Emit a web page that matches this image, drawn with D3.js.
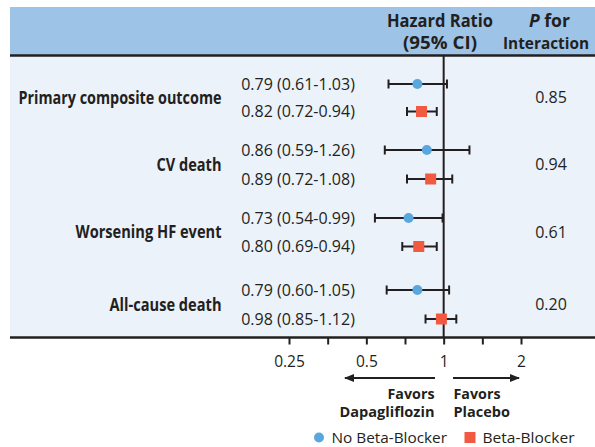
<!DOCTYPE html>
<html>
<head>
<meta charset="UTF-8">
<script src="https://cdn.jsdelivr.net/npm/d3@7"></script>
<style>
  body { margin: 0; background: #fff; }
  text { font-family: "Open Sans", sans-serif; fill: #231f20; }
</style>
</head>
<body>
<svg id="chart" width="595" height="447"></svg>
<script>
// outcomes, one per pair of rows
var outcomes = ["Primary composite outcome", "CV death", "Worsening HF event", "All-cause death"];
var pInteraction = ["0.85", "0.94", "0.61", "0.20"];

// no beta-blocker: hr, lo, hi
var noBB = [[0.79, 0.61, 1.03], [0.86, 0.59, 1.26], [0.73, 0.54, 0.99], [0.79, 0.60, 1.05]];
// beta-blocker
var withBB = [[0.82, 0.72, 0.94], [0.89, 0.72, 1.08], [0.80, 0.69, 0.94], [0.98, 0.85, 1.12]];

var tickVals = [0.25, Math.SQRT1_2 / 2, 0.5, Math.SQRT1_2, 1, Math.SQRT2, 2];
var tickLabels = {0.25: "0.25", 0.5: "0.5", 1: "1", 2: "2"};

var ink = "#231f20", blue = "#5aa7dd", red = "#f15a40";
var svg = d3.select("#chart");

var x = d3.scaleLog().base(2).domain([0.25, 2]).range([289, 521]);
// row centres for the 8 estimate rows
var rowY = [84, 111.5, 150, 179, 218, 246.5, 290, 319];
// widths of the condensed bold labels in the original
var labelWidth = [203, 65, 146, 112];

// squeeze a text into a given width
function fit(sel, w) {
  return sel.attr("textLength", w).attr("lengthAdjust", "spacingAndGlyphs");
}

// header band and panel
svg.append("rect").attr("x", 10).attr("y", 7).attr("width", 585).attr("height", 48).attr("fill", "#9dc3e6");
svg.append("rect").attr("x", 10).attr("y", 55).attr("width", 585).attr("height", 283).attr("fill", "#ebf2fa");
svg.append("line").attr("x1", 10).attr("x2", 595).attr("y1", 55.5).attr("y2", 55.5).attr("stroke", ink).attr("stroke-width", 2.5);

var hdr = svg.append("g").attr("font-weight", "bold").attr("font-size", 17);
fit(hdr.append("text").attr("x", 387).attr("y", 26.5), 106).text("Hazard Ratio");
fit(hdr.append("text").attr("x", 403).attr("y", 48.5), 74).text("(95% CI)");
var pf = fit(hdr.append("text").attr("x", 529).attr("y", 26.5), 41);
pf.append("tspan").attr("font-style", "italic").text("P");
pf.append("tspan").text(" for");
fit(hdr.append("text").attr("x", 503).attr("y", 48.5).attr("font-size", 16.5), 86).text("Interaction");

// reference line
svg.append("line").attr("x1", x(1)).attr("x2", x(1)).attr("y1", 55).attr("y2", 338)
  .attr("stroke", ink).attr("stroke-width", 2);

// axis
var axis = d3.axisBottom(x).tickValues(tickVals).tickSize(7)
  .tickFormat(function (d) { return tickLabels[d] || ""; });
var ax = svg.append("g").attr("transform", "translate(0,337.5)").call(axis);
ax.select(".domain").remove();
ax.selectAll(".tick line").attr("stroke", ink).attr("stroke-width", 2);
ax.selectAll(".tick text").attr("font-size", 15.5).attr("font-family", "Open Sans, sans-serif").attr("fill", ink)
  .attr("y", 29).attr("dy", 0);
svg.append("line").attr("x1", 10).attr("x2", 595).attr("y1", 337.5).attr("y2", 337.5).attr("stroke", ink).attr("stroke-width", 2.5);

// outcome labels and p values
outcomes.forEach(function (o, i) {
  var yc = (rowY[2 * i] + rowY[2 * i + 1]) / 2;
  fit(svg.append("text").attr("x", 221.5 - labelWidth[i]).attr("y", yc).attr("dy", "0.36em")
    .attr("font-weight", "bold").attr("font-size", 17), labelWidth[i]).text(o);
  svg.append("text").attr("x", 551).attr("y", yc).attr("dy", "0.35em").attr("text-anchor", "middle")
    .attr("font-size", 16).text(pInteraction[i]);
});

function fmt(d) { return d.toFixed(2); }

var rows = [];
outcomes.forEach(function (o, i) {
  rows.push({v: noBB[i], y: rowY[2 * i], kind: "no"});
  rows.push({v: withBB[i], y: rowY[2 * i + 1], kind: "bb"});
});

var g = svg.selectAll("g.row").data(rows).enter().append("g").attr("class", "row");
g.append("text").attr("x", 298).attr("y", function (d) { return d.y; }).attr("dy", "0.36em")
  .attr("text-anchor", "middle").attr("font-size", 16)
  .text(function (d) { return fmt(d.v[0]) + " (" + fmt(d.v[1]) + "-" + fmt(d.v[2]) + ")"; });
g.append("line").attr("x1", function (d) { return x(d.v[1]); }).attr("x2", function (d) { return x(d.v[2]); })
  .attr("y1", function (d) { return d.y; }).attr("y2", function (d) { return d.y; })
  .attr("stroke", ink).attr("stroke-width", 2);
[1, 2].forEach(function (k) {
  g.append("line").attr("x1", function (d) { return x(d.v[k]); }).attr("x2", function (d) { return x(d.v[k]); })
    .attr("y1", function (d) { return d.y - 4.5; }).attr("y2", function (d) { return d.y + 4.5; })
    .attr("stroke", ink).attr("stroke-width", 2);
});
g.filter(function (d) { return d.kind === "no"; }).append("circle")
  .attr("cx", function (d) { return x(d.v[0]); }).attr("cy", function (d) { return d.y; })
  .attr("r", 5).attr("fill", blue);
g.filter(function (d) { return d.kind === "bb"; }).append("rect")
  .attr("x", function (d) { return x(d.v[0]) - 5.5; }).attr("y", function (d) { return d.y - 5.5; })
  .attr("width", 11).attr("height", 11).attr("fill", red);

// favours arrows
var defs = svg.append("defs");
defs.append("marker").attr("id", "arr").attr("viewBox", "0 0 10 10").attr("refX", 9).attr("refY", 5)
  .attr("markerWidth", 12).attr("markerHeight", 10).attr("markerUnits", "userSpaceOnUse").attr("orient", "auto")
  .append("path").attr("d", "M0,1 L10,5 L0,9 Z").attr("fill", ink);
svg.append("line").attr("x1", 435).attr("x2", 345).attr("y1", 378).attr("y2", 378)
  .attr("stroke", ink).attr("stroke-width", 2).attr("marker-end", "url(#arr)");
svg.append("line").attr("x1", 453).attr("x2", 519).attr("y1", 378).attr("y2", 378)
  .attr("stroke", ink).attr("stroke-width", 2).attr("marker-end", "url(#arr)");

var fav = svg.append("g").attr("font-weight", "bold").attr("font-size", 13.5);
fit(fav.append("text").attr("x", 387.5).attr("y", 398.5), 47).text("Favors");
fit(fav.append("text").attr("x", 339.5).attr("y", 416.5), 95).text("Dapagliflozin");
fit(fav.append("text").attr("x", 453.5).attr("y", 398.5), 47).text("Favors");
fit(fav.append("text").attr("x", 453.5).attr("y", 416.5), 56.5).text("Placebo");

// legend
svg.append("circle").attr("cx", 319).attr("cy", 437.5).attr("r", 5).attr("fill", blue);
fit(svg.append("text").attr("x", 331.5).attr("y", 442.5).attr("font-size", 14.5), 115.5).text("No Beta-Blocker");
svg.append("rect").attr("x", 464.5).attr("y", 432).attr("width", 11).attr("height", 11).attr("fill", red);
fit(svg.append("text").attr("x", 482.5).attr("y", 442.5).attr("font-size", 14.5), 92).text("Beta-Blocker");
</script>
</body>
</html>
